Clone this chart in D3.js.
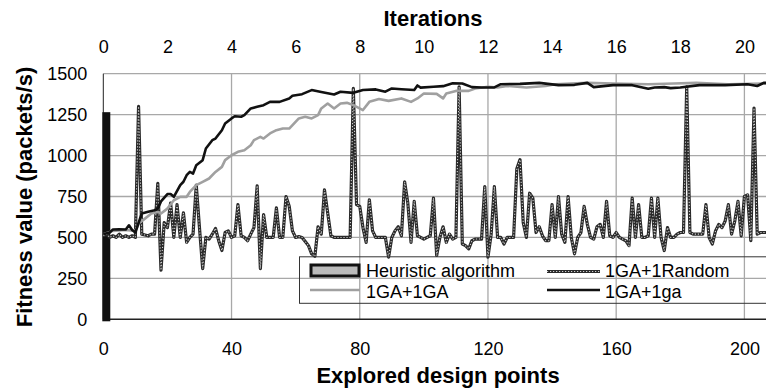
<!DOCTYPE html>
<html>
<head>
<meta charset="utf-8">
<script src="https://cdn.jsdelivr.net/npm/d3@7"></script>
<style>
  body { margin: 0; background: #fff; }
  text { font-family: "Liberation Sans", Arial, sans-serif; fill: #000; }
</style>
</head>
<body>
<svg id="chart"></svg>
<script>
var width = 766,
    height = 392;

// tick labels
var yTicks = [0, 250, 500, 750, 1000, 1250, 1500],
    xTicks = [0, 40, 80, 120, 160, 200],
    iterTicks = [0, 2, 4, 6, 8, 10, 12, 14, 16, 18, 20];

// Heuristic algorithm: one bar at design point 0
var heuristicValue = 1265;

// 1GA+1Random: one value per explored design point (0..207)
var randomValues = [
  510, 520, 500, 510, 500, 520, 500, 510, 500, 510,
  500, 1300, 520, 515, 510, 520, 520, 830, 300, 590,
  560, 710, 500, 700, 500, 650, 470, 500, 520, 820,
  560, 310, 500, 490, 520, 555, 480, 420, 530, 540,
  500, 510, 700, 510, 500, 480, 520, 560, 815, 310,
  640, 500, 500, 500, 680, 500, 500, 750, 690, 540,
  500, 505, 500, 475, 450, 400, 385, 565, 520, 790,
  650, 510, 500, 500, 500, 500, 500, 500, 1410, 700,
  690, 560, 470, 730, 540, 500, 500, 500, 500, 380,
  500, 540, 565, 510, 840, 710, 470, 720, 510, 500,
  490, 500, 510, 740, 390, 500, 565, 470, 520, 490,
  500, 1420, 460, 450, 430, 480, 490, 490, 490, 810,
  380, 520, 810, 500, 500, 460, 500, 500, 500, 920,
  975, 590, 500, 770, 740, 530, 565, 510, 480, 480,
  700, 500, 750, 520, 470, 750, 500, 400, 500, 530,
  690, 580, 500, 490, 565, 580, 500, 720, 510, 500,
  530, 500, 490, 480, 450, 740, 500, 700, 500, 500,
  510, 740, 500, 740, 500, 420, 560, 500, 500, 520,
  530, 530, 1420, 530, 520, 520, 520, 520, 700, 500,
  460, 540, 580, 560, 600, 700, 520, 600, 720, 510,
  750, 760, 480, 1290, 520, 530, 530, 530
];

// 1GA+1GA: [design point, fitness]
var gaGaPoints = [
  [0, 520], [3, 540], [7, 545], [10, 540], [11, 585], [13, 615], [15, 646], [17, 656],
  [18, 646], [20, 676], [22, 727], [24, 748], [26, 748], [27, 778], [29, 819], [31, 839],
  [33, 860], [35, 900], [37, 931], [38, 972], [40, 1002], [42, 1023], [44, 1033], [46, 1063],
  [47, 1094], [49, 1114], [50, 1104], [52, 1135], [54, 1155], [56, 1165], [58, 1165], [61, 1227],
  [63, 1237], [65, 1227], [67, 1247], [68, 1288], [70, 1318], [72, 1288], [74, 1318], [76, 1322],
  [78, 1308], [81, 1278], [83, 1328], [86, 1345], [89, 1334], [93, 1349], [96, 1328], [98, 1349],
  [100, 1379], [104, 1377], [106, 1349], [107, 1379], [110, 1395], [112, 1395], [114, 1395],
  [116, 1410], [120, 1420], [123, 1416], [126, 1425], [132, 1416], [138, 1425], [141, 1436],
  [151, 1444], [159, 1440], [170, 1436], [178, 1440], [185, 1444], [195, 1436], [208, 1440]
];

// 1GA+1ga: [design point, fitness]
var gaLowPoints = [
  [0, 520], [2, 530], [3, 548], [5, 550], [7, 548], [8, 574], [9, 545], [10, 530],
  [12, 646], [14, 657], [16, 666], [17, 676], [18, 720], [20, 765], [21, 765], [22, 748],
  [24, 820], [25, 840], [26, 880], [27, 900], [28, 890], [29, 941], [31, 972], [32, 1043],
  [34, 1094], [35, 1104], [37, 1155], [38, 1196], [40, 1227], [41, 1240], [43, 1237], [44, 1247],
  [46, 1288], [48, 1298], [50, 1308], [52, 1328], [55, 1328], [58, 1349], [59, 1365], [62, 1375],
  [65, 1400], [68, 1388], [72, 1373], [74, 1390], [78, 1383], [81, 1400], [85, 1404], [88, 1390],
  [90, 1410], [93, 1405], [97, 1400], [98, 1428], [99, 1415], [103, 1420], [106, 1424], [109, 1442],
  [112, 1440], [115, 1418], [118, 1416], [122, 1416], [124, 1436], [130, 1438], [136, 1444],
  [142, 1430], [147, 1432], [151, 1444], [153, 1418], [159, 1430], [165, 1430], [170, 1408],
  [172, 1416], [175, 1418], [177, 1412], [180, 1416], [186, 1430], [194, 1430], [201, 1436],
  [204, 1425], [206, 1444], [208, 1444]
];

var svg = d3.select("#chart").attr("width", width).attr("height", height);

var x = d3.scaleLinear().domain([0, 200]).range([103.3, 744.4]),
    iter = d3.scaleLinear().domain([0, 20]).range([103.3, 744.4]),
    y = d3.scaleLinear().domain([0, 1500]).range([319.3, 73.7]);

var gridColor = "#a8a8a8";

// horizontal grid
svg.append("g").selectAll("line")
  .data(yTicks.filter(function(d) { return d > 0; }))
  .enter().append("line")
  .attr("x1", x(0)).attr("x2", width)
  .attr("y1", function(d) { return y(d); })
  .attr("y2", function(d) { return y(d); })
  .attr("stroke", gridColor).attr("stroke-width", 1.3);

// vertical grid
svg.append("g").selectAll("line")
  .data(xTicks.filter(function(d) { return d > 0; }))
  .enter().append("line")
  .attr("x1", function(d) { return x(d); })
  .attr("x2", function(d) { return x(d); })
  .attr("y1", y(0)).attr("y2", y(1500))
  .attr("stroke", gridColor).attr("stroke-width", 1.3);

// axes lines
svg.append("line")
  .attr("x1", x(0)).attr("x2", x(0)).attr("y1", y(0)).attr("y2", y(1500))
  .attr("stroke", "#222").attr("stroke-width", 1);
svg.append("line")
  .attr("x1", x(0)).attr("x2", width).attr("y1", y(0)).attr("y2", y(0))
  .attr("stroke", "#222").attr("stroke-width", 1.4);

// axes labels
var yAxis = svg.append("g")
  .attr("transform", "translate(" + x(0) + ",0)")
  .call(d3.axisLeft(y).tickValues(yTicks).tickFormat(d3.format("d")).tickSize(0).tickPadding(16));
var xAxis = svg.append("g")
  .attr("transform", "translate(0," + y(0) + ")")
  .call(d3.axisBottom(x).tickValues(xTicks).tickFormat(d3.format("d")).tickSize(0).tickPadding(23));
var topAxis = svg.append("g")
  .attr("transform", "translate(0," + y(1500) + ")")
  .call(d3.axisTop(iter).tickValues(iterTicks).tickFormat(d3.format("d")).tickSize(0).tickPadding(21));

[yAxis, xAxis, topAxis].forEach(function(a) {
  a.select(".domain").remove();
  a.selectAll("text")
    .style("font-family", '"Liberation Sans", Arial, sans-serif')
    .style("font-size", "18px")
    .attr("fill", "#000");
});

// heuristic bar
svg.append("rect")
  .attr("x", x(0) + 1)
  .attr("width", 4)
  .attr("y", y(heuristicValue) + 2)
  .attr("height", y(0) - y(heuristicValue) - 2)
  .attr("fill", "#bbb")
  .attr("stroke", "#111")
  .attr("stroke-width", 4);

// 1GA+1Random
var randomLine = d3.line()
  .x(function(d, i) { return x(i); })
  .y(function(d) { return y(d); });

svg.append("path")
  .datum(randomValues)
  .attr("d", randomLine)
  .attr("fill", "none")
  .attr("stroke", "#2a2a2a")
  .attr("stroke-width", 3.2)
  .attr("stroke-linejoin", "round");
svg.append("path")
  .datum(randomValues)
  .attr("d", randomLine)
  .attr("fill", "none")
  .attr("stroke", "#d0d0d0")
  .attr("stroke-width", 1.1)
  .attr("stroke-dasharray", "1.2 1.8");

var pairLine = d3.line()
  .x(function(d) { return x(d[0]); })
  .y(function(d) { return y(d[1]); });

// 1GA+1GA
svg.append("path")
  .datum(gaGaPoints)
  .attr("d", pairLine)
  .attr("fill", "none")
  .attr("stroke", "#a0a0a0")
  .attr("stroke-width", 2.6)
  .attr("stroke-linejoin", "round");

// 1GA+1ga
svg.append("path")
  .datum(gaLowPoints)
  .attr("d", pairLine)
  .attr("fill", "none")
  .attr("stroke", "#111")
  .attr("stroke-width", 2.6)
  .attr("stroke-linejoin", "round");

// titles
svg.append("text")
  .attr("x", 433).attr("y", 26)
  .attr("text-anchor", "middle")
  .style("font-size", "22px").style("font-weight", "bold")
  .text("Iterations");
svg.append("text")
  .attr("x", 438).attr("y", 383)
  .attr("text-anchor", "middle")
  .style("font-size", "22px").style("font-weight", "bold")
  .text("Explored design points");
svg.append("text")
  .attr("transform", "translate(32,197) rotate(-90)")
  .attr("text-anchor", "middle")
  .style("font-size", "22px").style("font-weight", "bold")
  .text("Fitness value (packets/s)");

// legend
var legend = svg.append("g");
legend.append("rect")
  .attr("x", 299.5).attr("y", 256.8)
  .attr("width", 500).attr("height", 46.5)
  .attr("fill", "none")
  .attr("stroke", "#333")
  .attr("stroke-width", 1);

legend.append("rect")
  .attr("x", 311).attr("y", 265)
  .attr("width", 48).attr("height", 11)
  .attr("fill", "#bbb").attr("stroke", "#111").attr("stroke-width", 3);

legend.append("line")
  .attr("x1", 547).attr("x2", 600).attr("y1", 271.5).attr("y2", 271.5)
  .attr("stroke", "#2a2a2a").attr("stroke-width", 3.2);
legend.append("line")
  .attr("x1", 547).attr("x2", 600).attr("y1", 271.5).attr("y2", 271.5)
  .attr("stroke", "#d0d0d0").attr("stroke-width", 1.1).attr("stroke-dasharray", "1.2 1.8");

legend.append("line")
  .attr("x1", 310).attr("x2", 360).attr("y1", 290).attr("y2", 290)
  .attr("stroke", "#a0a0a0").attr("stroke-width", 2.6);
legend.append("line")
  .attr("x1", 547).attr("x2", 600).attr("y1", 290).attr("y2", 290)
  .attr("stroke", "#111").attr("stroke-width", 2.6);

var legendLabels = [
  {t: "Heuristic algorithm", x: 366, y: 277},
  {t: "1GA+1Random", x: 605, y: 277},
  {t: "1GA+1GA", x: 366, y: 298},
  {t: "1GA+1ga", x: 605, y: 298}
];
legend.selectAll("text.lbl")
  .data(legendLabels)
  .enter().append("text")
  .attr("class", "lbl")
  .attr("x", function(d) { return d.x; })
  .attr("y", function(d) { return d.y; })
  .style("font-size", "18px")
  .text(function(d) { return d.t; });
</script>
</body>
</html>
